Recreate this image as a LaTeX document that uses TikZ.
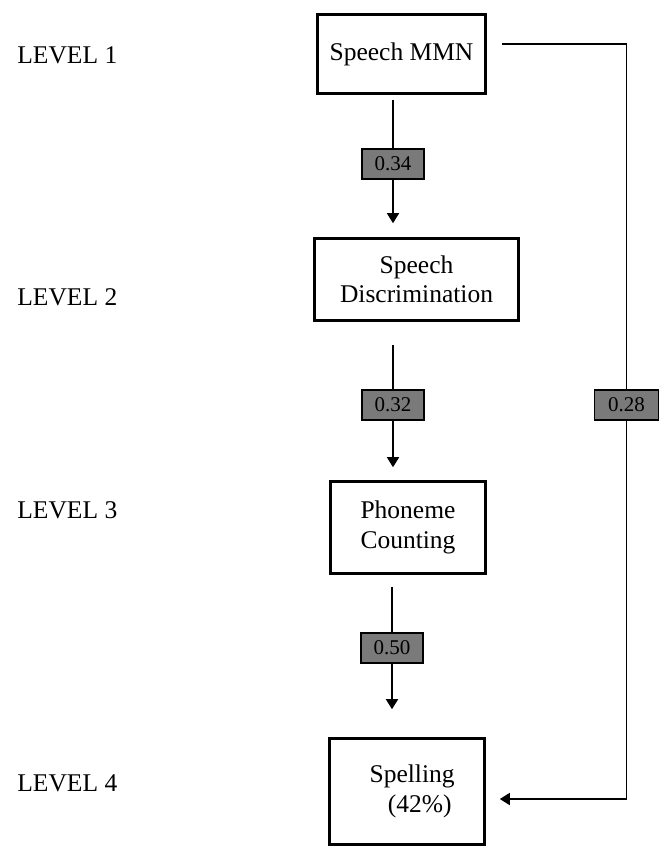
\documentclass[tikz,border=0pt]{standalone}
\usepackage{fontspec}
\setmainfont{Liberation Serif}
\usetikzlibrary{arrows.meta}
\begin{document}
\begin{tikzpicture}[x=0.5pt,y=-0.5pt,
  box/.style={draw=black, line width=1.7pt, inner sep=0pt, outer sep=0pt, align=center,
    font=\fontsize{12.75}{14.75}\selectfont},
  coef/.style={draw=black, line width=0.75pt, fill=black!52, inner sep=0pt, outer sep=0pt,
    minimum width=31pt, minimum height=15pt, font=\fontsize{10.5}{12}\selectfont},
  lvl/.style={anchor=base west, inner sep=0pt, font=\fontsize{12.75}{14.75}\selectfont},
  conn/.style={line width=0.8pt},
  arr/.style={line width=0.8pt, -{Triangle[length=5pt,width=6pt]}}]
\useasboundingbox (0,0) rectangle (662,847);
% level labels
\node[lvl] (lv1) at (17,63) {LEVEL 1};
\node[lvl] (lv2) at (17,305) {LEVEL 2};
\node[lvl] (lv3) at (17,518) {LEVEL 3};
\node[lvl] (lv4) at (17,791) {LEVEL 4};
% boxes
\node[box, minimum width=83.8pt, minimum height=39.3pt] (b1) at (401.5,54) {Speech MMN};
\node[box, minimum width=101.8pt, minimum height=40.8pt] (b2) at (416.5,279.5) {Speech\\Discrimination};
\node[box, minimum width=77.3pt, minimum height=45.8pt] (b3) at (408,527.5) {Phoneme\\Counting};
\node[box, minimum width=77.3pt, minimum height=52.8pt] (b4) at (407,791.5) {\hspace*{0.4em}Spelling\\\hspace*{1em}(42\%)};
% coefficient boxes
\node[coef] (l1) at (393,164) {0.34};
\node[coef] (l2) at (393,405) {0.32};
\node[coef] (l3) at (392,648) {0.50};
\node[coef, minimum width=32pt] (l4) at (626.5,405) {0.28};
% connectors
\draw[conn, shorten <=3.25pt] (b1.south -| l1.north) -- (l1.north);
\draw[arr, shorten >=7.75pt] (l1.south) -- (l1.south |- b2.north);
\draw[conn, shorten <=12.25pt] (b2.south -| l2.north) -- (l2.north);
\draw[arr, shorten >=7.25pt] (l2.south) -- (l2.south |- b3.north);
\draw[conn, shorten <=6.75pt] (b3.south -| l3.north) -- (l3.north);
\draw[arr, shorten >=14.75pt] (l3.south) -- (l3.south |- b4.north);
\draw[conn] ([xshift=8.25pt,yshift=5pt]b1.east) -| (l4.north);
\draw[arr] (l4.south) |- ([xshift=7.75pt,yshift=-3.75pt]b4.east);
\end{tikzpicture}
\end{document}
